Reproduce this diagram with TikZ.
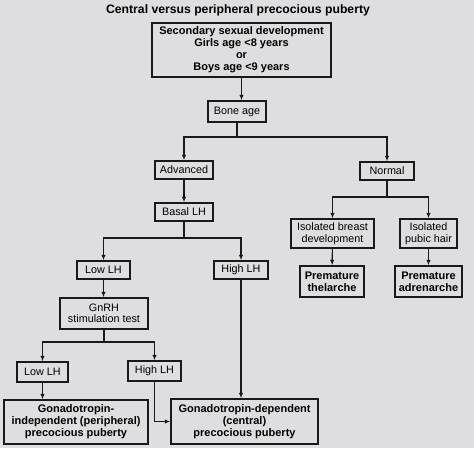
\documentclass[tikz,border=0pt]{standalone}
\usepackage{fontspec}
\setmainfont{Liberation Sans}
\usetikzlibrary{positioning,arrows.meta,calc}
\definecolor{bgc}{RGB}{222,222,224}

\begin{document}
\begin{tikzpicture}[
  x=1pt, y=1pt,
  font=\fontsize{10.8}{11.5}\selectfont,
  box/.style   = {draw=black!90, line width=1.5pt, fill=bgc, align=center, inner sep=1pt},
  bbox/.style  = {box, font=\fontsize{11}{12}\selectfont\bfseries},
  arr/.style   = {-{Latex[length=5.5pt,width=4.5pt]}, line width=1.1pt, black!90},
  line/.style  = {line width=1.1pt, black!90}]

% page
\useasboundingbox (0,0) rectangle (474,-448);
\fill[bgc] (0,0) rectangle (474,-448);

\node[font=\fontsize{12.2}{13}\selectfont\bfseries] (title) at (238,-10)
  {Central versus peripheral precocious puberty};

% top of the tree
\node[bbox, minimum width=179, minimum height=54] (start) at (241.5,-50)
  {Secondary sexual development\\Girls age {<}8 years\\or\\Boys age {<}9 years};
\node[box, minimum width=58, minimum height=21] (bone) at (237,-111.5) {Bone age};

\node[box, minimum width=58, minimum height=18] (adv)  at (184,-170) {Advanced};
\node[box, minimum width=54, minimum height=18] (norm) at (387,-171) {Normal};

% advanced branch
\node[box, minimum width=58, minimum height=18] (basal)  at (184,-212)   {Basal LH};
\node[box, minimum width=53, minimum height=18] (lowlh)  at (103.5,-270) {Low LH};
\node[box, minimum width=54, minimum height=18] (highlh) at (241,-270)   {High LH};
\node[box, minimum width=88, minimum height=31] (gnrh)   at (104,-313.5) {GnRH\\stimulation test};
\node[box, minimum width=51, minimum height=20] (lowlhb)  at (42.5,-372) {Low LH};
\node[box, minimum width=53, minimum height=20] (highlhb) at (154.5,-371) {High LH};

\node[bbox, minimum width=144, minimum height=44] (indep) at (76,-422)
  {Gonadotropin-\\independent (peripheral)\\precocious puberty};
\node[bbox, minimum width=147, minimum height=45] (dep) at (244.5,-421.5)
  {Gonadotropin-dependent\\(central)\\precocious puberty};

% normal branch
\node[box, minimum width=83, minimum height=29] (breast) at (332.5,-233.5)
  {Isolated breast\\development};
\node[box, minimum width=57, minimum height=29] (pubic)  at (428.5,-233.5)
  {Isolated\\pubic hair};
\node[bbox, minimum width=64, minimum height=31] (thel)  at (332,-281.5)
  {Premature\\thelarche};
\node[bbox, minimum width=67, minimum height=31] (adren) at (428.5,-281.5)
  {Premature\\adrenarche};

% connectors
\draw[arr] (start.south) -- (start.south |- bone.north);

\coordinate (split1) at (237,-137);
\draw[arr] (bone.south) -- (split1) -| (adv.north);
\draw[arr] (split1) -| (norm.north);

\draw[arr] (adv) -- (basal);
\coordinate (split2) at (184,-238);
\draw[arr] (basal.south) -- (split2) -| (lowlh.north);
\draw[arr] (split2) -| (highlh.north);

\draw[arr] (lowlh) -- (lowlh |- gnrh.north);
\coordinate (split3) at (104,-342);
\draw[arr] (gnrh.south) -- (split3) -| (lowlhb.north);
\draw[arr] (split3) -| (highlhb.north);

\draw[arr] (lowlhb) -- (lowlhb |- indep.north);
\draw[arr] (highlhb.south) |- (dep.west);
\draw[arr] (highlh.south) -- (highlh.south |- dep.north);

\coordinate (split4) at (387,-197);
\draw[arr] (norm.south) -- (split4) -| (breast.north);
\draw[arr] (split4) -| (pubic.north);
\draw[arr] (breast) -- (thel);
\draw[arr] (pubic) -- (pubic |- adren.north);

\end{tikzpicture}
\end{document}
